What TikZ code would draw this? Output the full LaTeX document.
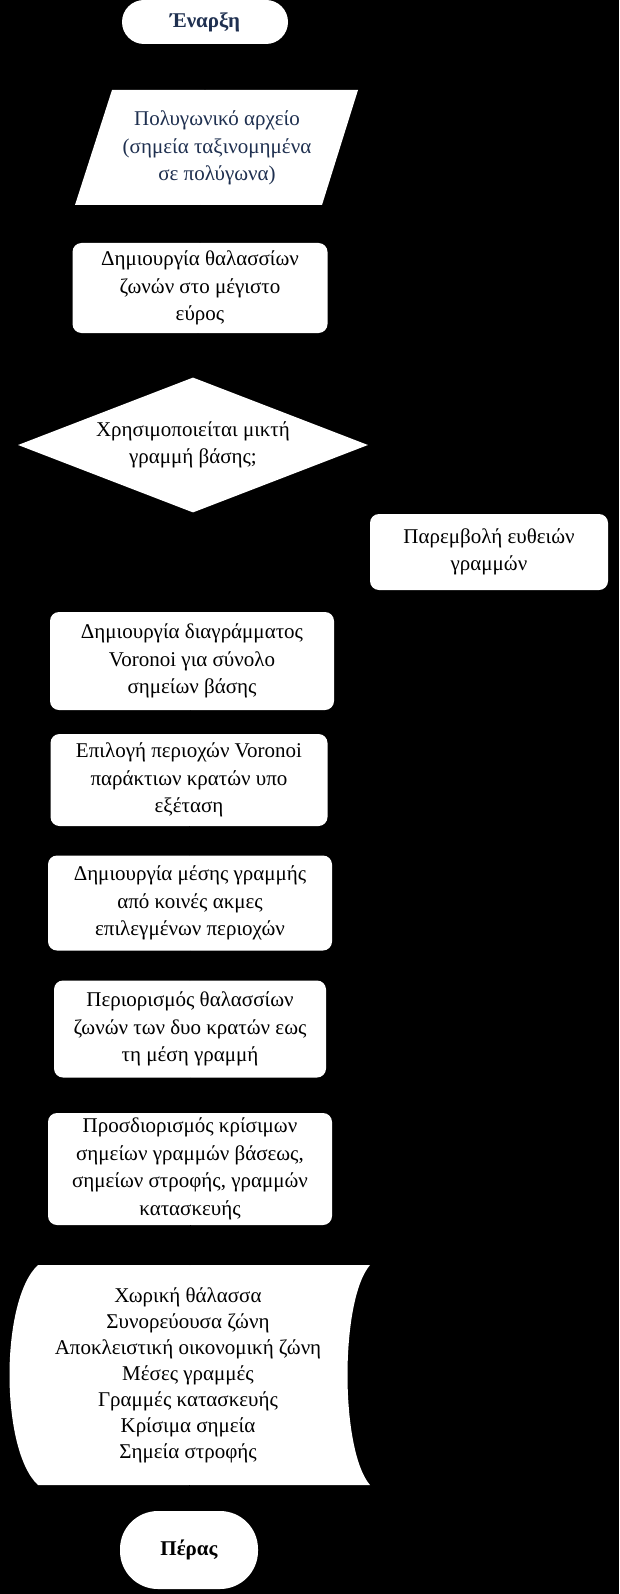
\documentclass[tikz,border=0pt]{standalone}
\usepackage{fontspec}
\setmainfont{Liberation Serif}
\usetikzlibrary{shapes.geometric,arrows.meta}
\definecolor{dblue}{HTML}{1F3050}
\tikzset{
  x=1pt,y=-1pt,
  txt/.style={align=center,font=\fontsize{21}{27.5}\selectfont,text=black},
  proc/.style={txt,fill=white,rounded corners=9pt,inner sep=0pt},
  term/.style={fill=white,rounded corners=22pt,inner sep=0pt,font=\fontsize{21}{24}\selectfont\bfseries},
  conn/.style={draw=black,-{Stealth}}
}
\begin{document}
\begin{tikzpicture}
\fill[black] (0,0) rectangle (619,1594);
\useasboundingbox (0,0) rectangle (619,1594);
% start
\node[term,minimum width=166pt,minimum height=44pt,text=dblue] (start) at (205,22) {Έναρξη};
% parallelogram
\fill[white] (112,90) -- (358,90) -- (322,205) -- (75,205) -- cycle;
\coordinate (inT) at (205,90);
\coordinate (inB) at (200,205);
\node[txt,text=dblue] (in) at (217,148) {Πολυγωνικό αρχείο\\(σημεία ταξινομημένα\\σε πολύγωνα)};
\node[proc,minimum width=255pt,minimum height=90pt] (b1) at (200,288) {Δημιουργία θαλασσίων\\ζωνών στο μέγιστο\\εύρος};
\node[diamond,fill=white,minimum width=350pt,minimum height=135pt,inner sep=0pt,aspect=2.6] (d) at (193,445) {};
\node[txt] at (d.center) {Χρησιμοποιείται μικτή\\γραμμή βάσης;};
\node[proc,minimum width=238pt,minimum height=76pt] (r) at (489,552) {Παρεμβολή ευθειών\\γραμμών};
\node[proc,minimum width=284pt,minimum height=98pt] (b2) at (192,661) {Δημιουργία διαγράμματος\\Voronoi για σύνολο\\σημείων βάσης};
\node[proc,minimum width=277pt,minimum height=92pt] (b3) at (189,780) {Επιλογή περιοχών Voronoi\\παράκτιων κρατών υπο\\εξέταση};
\node[proc,minimum width=284pt,minimum height=95pt] (b4) at (190,903) {Δημιουργία μέσης γραμμής\\από κοινές ακμες\\επιλεγμένων περιοχών};
\node[proc,minimum width=272pt,minimum height=97pt] (b5) at (190,1029) {Περιορισμός θαλασσίων\\ζωνών των δυο κρατών εως\\τη μέση γραμμή};
\node[proc,minimum width=284pt,minimum height=112pt] (b6) at (190,1169) {Προσδιορισμός κρίσιμων\\σημείων γραμμών βάσεως,\\σημείων στροφής, γραμμών\\κατασκευής};
% stored data
\fill[white] (38,1265) -- (370,1265) .. controls (340,1300) and (340,1450) .. (370,1485) -- (38,1485) .. controls (0,1450) and (0,1300) .. (38,1265) -- cycle;
\coordinate (outT) at (190,1265);
\coordinate (outB) at (189,1485);
\node[txt,font=\fontsize{21}{26}\selectfont] (out) at (188,1375) {Χωρική θάλασσα\\Συνορεύουσα ζώνη\\Αποκλειστική οικονομική ζώνη\\Μέσες γραμμές\\Γραμμές κατασκευής\\Κρίσιμα σημεία\\Σημεία στροφής};
\node[term,minimum width=138pt,minimum height=78pt,rounded corners=38pt,text=black] (end) at (189,1550) {Πέρας};
% connectors (black, as in the reference)
\draw[conn] (start) -- (inT);
\draw[conn] (inB) -- (b1);
\draw[conn] (b1) -- (d);
\draw[conn] (d) -- (b2);
\draw[conn] (d.east) -| (r);
\draw[conn] (b2) -- (b3);
\draw[conn] (b3) -- (b4);
\draw[conn] (b4) -- (b5);
\draw[conn] (b5) -- (b6);
\draw[conn] (b6) -- (outT);
\draw[conn] (outB) -- (end);
\end{tikzpicture}
\end{document}
